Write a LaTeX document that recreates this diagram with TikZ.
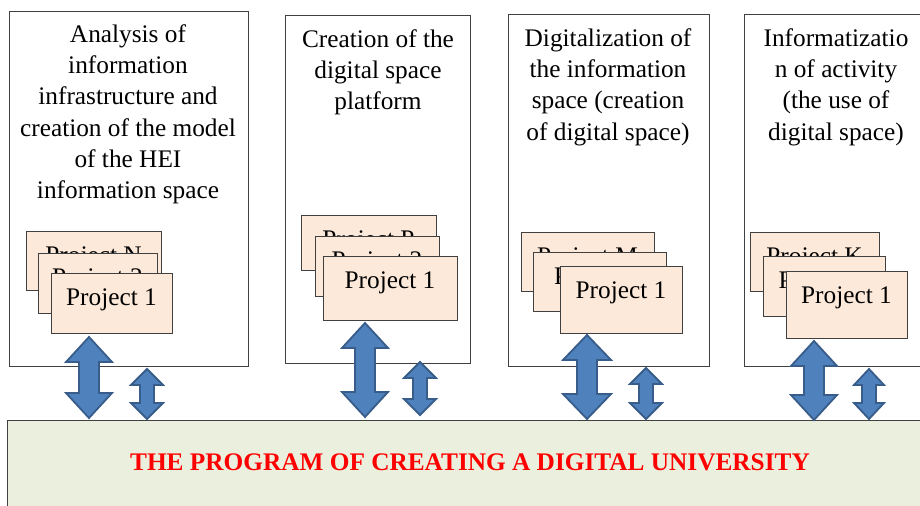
\documentclass[tikz,border=0pt]{standalone}
\usepackage{fontspec}
\setmainfont{Liberation Serif}
\definecolor{arrfill}{HTML}{4F81BD}
\definecolor{arrline}{HTML}{385D8A}
\definecolor{projfill}{HTML}{FDE9D9}
\definecolor{progfill}{HTML}{EBF0DE}
\definecolor{frame}{HTML}{404040}
\tikzset{
  stage/.style={draw=frame,line width=0.6pt,fill=white},
  stagetext/.style={anchor=north,align=center,inner sep=0pt,font=\fontsize{18}{22.3}\selectfont},
  projbox/.style={draw=frame,line width=0.6pt,fill=projfill},
  projtext/.style={inner sep=0pt,font=\fontsize{18}{22}\selectfont},
  blockarr/.style={fill=arrfill,draw=arrline,line width=1.3pt,line join=miter},
  progtext/.style={inner sep=0pt,text=red,font=\fontsize{18}{22}\selectfont\bfseries},
}
% block arrow with two heads: centre x, top, bottom, head half width, shaft half width, head length
\newcommand{\dblarrow}[6]{%
  \filldraw[blockarr] (#1,#2) -- ({#1+#4},{#2+#6}) -- ({#1+#5},{#2+#6})
    -- ({#1+#5},{#3-#6}) -- ({#1+#4},{#3-#6}) -- (#1,#3)
    -- ({#1-#4},{#3-#6}) -- ({#1-#5},{#3-#6}) -- ({#1-#5},{#2+#6})
    -- ({#1-#4},{#2+#6}) -- cycle;}
% one project card: name, x1, y1, x2, y2, label
\newcommand{\project}[6]{%
  \filldraw[projbox] (#2,#3) rectangle (#4,#5);
  \node[projtext] (#1) at ({(#2+#4)/2},{#3+27}) {#6};}
\begin{document}
\begin{tikzpicture}[x=0.025cm,y=-0.025cm]
\useasboundingbox (0,0) rectangle (920,506);
\clip (0,0) rectangle (920,506);
% the four stages
\filldraw[stage] (9,11) rectangle (248,366);
\node[stagetext] (t1) at (128,24) {Analysis of\\information\\infrastructure and\\creation of the model\\of the HEI\\information space};
\filldraw[stage] (285,15) rectangle (470,363);
\node[stagetext] (t2) at (378,29) {Creation of the\\digital space\\platform};
\filldraw[stage] (508,14) rectangle (709,366);
\node[stagetext] (t3) at (608,28) {Digitalization of\\the information\\space (creation\\of digital space)};
\filldraw[stage] (744,14) rectangle (935,366);
\node[stagetext] (t4) at (836,28) {Informatizatio\\n of activity\\(the use of\\digital space)};
% project stacks
\project{p1n}{26}{231}{161}{290}{Project N}
\project{p12}{38}{253}{157}{313}{Project 2}
\project{p11}{51}{273}{172}{333}{Project 1}
\project{p2p}{301}{215}{436}{270}{Project P}
\project{p22}{315}{236}{439}{296}{Project 2}
\project{p21}{323}{256}{457}{320}{Project 1}
\project{p3m}{521}{232}{654}{291}{Project M}
\project{p32}{533}{252}{666}{311}{Project 2}
\project{p31}{560}{266}{682}{333}{Project 1}
\project{p4k}{750}{232}{879}{291}{Project K}
\project{p42}{763}{256}{885}{316}{Project 2}
\project{p41}{786}{271}{907}{338}{Project 1}
% the program
\filldraw[draw=frame,line width=0.6pt,fill=progfill] (7,420) rectangle (935,520);
\node[progtext] (prog) at (470,462) {THE PROGRAM OF CREATING A DIGITAL UNIVERSITY};
% arrows between stages and the program
\dblarrow{89}{337}{418}{23}{10}{25}
\dblarrow{147}{369}{419}{16}{7}{16}
\dblarrow{365}{323}{417}{23}{10}{25}
\dblarrow{420}{362}{415}{16}{7}{16}
\dblarrow{587}{335}{419}{24}{10}{25}
\dblarrow{646}{368}{419}{16}{7}{16}
\dblarrow{814}{341}{420}{23}{10}{25}
\dblarrow{869}{369}{419}{15}{7}{16}
\end{tikzpicture}
\end{document}
